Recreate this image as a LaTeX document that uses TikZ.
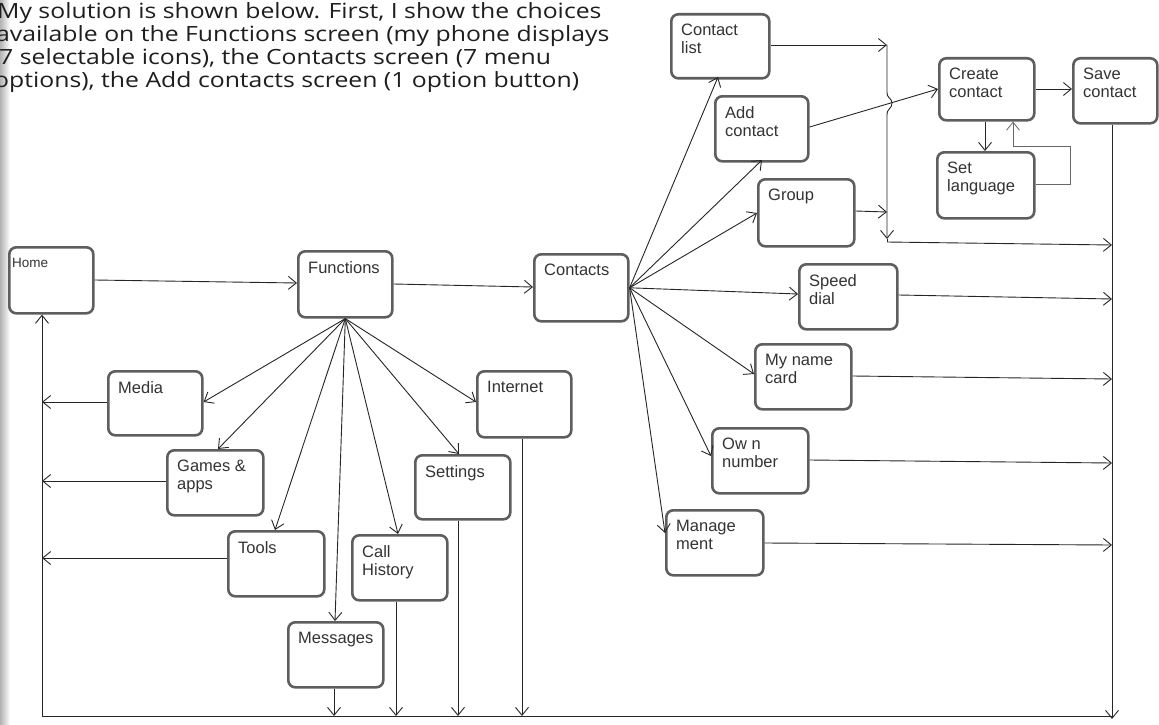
\documentclass[tikz,border=0pt]{standalone}
\usepackage{fontspec}
\setmainfont{Liberation Sans}
\newfontfamily\introfont[FakeStretch=1.18]{Open Sans}
\usetikzlibrary{arrows.meta}

\definecolor{boxline}{HTML}{5E5E5E}
\definecolor{boxtext}{HTML}{333333}
\definecolor{wire}{HTML}{262626}
\definecolor{introtext}{HTML}{1E1E1E}

\tikzset{
  screen/.style={draw=boxline, line width=2.6pt, rounded corners=7pt, fill=white,
                 anchor=north west, inner sep=0pt},
  screentext/.style={anchor=north west, inner sep=0pt, align=left, text=boxtext,
                     font=\fontsize{16.5}{18}\selectfont},
  flow/.style={draw=wire, line width=0.9pt,
               -{Straight Barb[length=8pt,width=13pt,line width=0.9pt]}},
  plain/.style={draw=wire, line width=0.9pt},
  introline/.style={anchor=base west, inner sep=0pt, text=introtext,
                    font=\introfont\fontsize{21}{23}\selectfont},
}

% \screenbox{name}{left}{top}{right}{bottom}{label}
\newcommand\screenbox[6]{%
  \node[screen, minimum width=#4-#2, minimum height=#5-#3] (#1) at (#2,#3) {};
  \node[screentext] (#1-label) at (#2+11,#3+11) {#6};
}

\begin{document}
\begin{tikzpicture}[x=1pt,y=-1pt]
\useasboundingbox (0,0) rectangle (1159,725);
\fill[white] (0,0) rectangle (1159,725);
% shadow of the page binding along the left edge
\shade[left color=black!30, right color=white] (0,0) rectangle (10,725);

% introductory text
\node[introline] (intro1) at (-3,19) {My solution is shown below. First, I show the choices};
\node[introline] (intro2) at (-4,42) {available on the Functions screen (my phone displays};
\node[introline] (intro3) at (-1,65) {7 selectable icons), the Contacts screen (7 menu};
\node[introline] (intro4) at (-6,88) {options), the Add contacts screen (1 option button)};

% screens
\node[screen, minimum width=84, minimum height=66] (home) at (8,246) {};
\node[screentext, font=\fontsize{13.5}{16}\selectfont] (home-label) at (12,258) {Home};
\screenbox{functions}{297}{250}{391}{316}{Functions}
\screenbox{contacts}{533}{253}{627}{320}{Contacts}
\screenbox{media}{107}{370}{201}{434}{Media}
\screenbox{internet}{476}{370}{570}{436}{Internet}
\screenbox{games}{166}{449}{262}{514}{Games \&\\apps}
\screenbox{settings}{414}{454}{509}{518}{Settings}
\screenbox{tools}{227}{530}{323}{595}{Tools}
\screenbox{callhist}{351}{534}{446}{599}{Call\\History}
\screenbox{messages}{287}{621}{382}{686}{Messages}

\screenbox{clist}{670}{13}{768}{77}{Contact\\list}
\screenbox{addc}{714}{95}{807}{160}{Add\\contact}
\screenbox{group}{757}{178}{853}{245}{Group}
\screenbox{create}{938}{57}{1033}{119}{Create\\contact}
\screenbox{save}{1072}{57}{1156}{122}{Save\\contact}
\screenbox{setlang}{936}{151}{1033}{217}{Set\\language}
\screenbox{speed}{798}{263}{896}{328}{Speed\\dial}
\screenbox{mycard}{754}{343}{850}{408}{My name\\card}
\screenbox{ownnum}{711}{427}{807}{492}{Ow n\\number}
\screenbox{manage}{665}{509}{762}{574}{Manage\\ment}

% return bus back to Home
\coordinate (busLeft) at (42,716);
\coordinate (busRight) at (1112,716);
\coordinate (bendTop) at (887,45);
\coordinate (bendBot) at (887,239);

% main path
\draw[flow] (home.east |- 0,280) -- (functions.west |- 0,283);
\draw[flow] (functions.east |- 0,284) -- (contacts.west |- 0,287);

% Functions fan-out
\draw[flow] (functions.south) -- (media.east |- 0,402);
\draw[flow] (functions.south) -- (218,449);
\draw[flow] (functions.south) -- (275,530);
\draw[flow] (functions.south) -- (335,621);
\draw[flow] (functions.south) -- (398,534);
\draw[flow] (functions.south) -- (459,454);
\draw[flow] (functions.south) -- (internet.west |- 0,402);

% back to the Home column
\draw[flow] (media.west |- 0,402) -- (busLeft |- 0,402);
\draw[flow] (games.west |- 0,481) -- (busLeft |- 0,481);
\draw[flow] (tools.west |- 0,558) -- (busLeft |- 0,558);
\draw[flow] (messages.south -| 334,0) -- (334,716);
\draw[flow] (callhist.south -| 396,0) -- (396,716);
\draw[flow] (settings.south -| 458,0) -- (458,716);
\draw[flow] (internet.south -| 522,0) -- (522,716);
\draw[plain] (busRight) -- (busLeft);
\draw[flow] (busLeft) -- (home.south -| busLeft);

% Contacts fan-out
\draw[flow] (contacts.east) -- (718,77);
\draw[flow] (contacts.east) -- (762,160);
\draw[flow] (contacts.east) -- (group.west |- 0,213);
\draw[flow] (contacts.east) -- (speed.west |- 0,294);
\draw[flow] (contacts.east) -- (mycard.west |- 0,374);
\draw[flow] (contacts.east) -- (ownnum.west |- 0,456);
\draw[flow] (contacts.east) -- (manage.west |- 0,533);

% Add contact branch
\draw[flow] (addc.east |- 0,127) -- (create.west |- 0,89);
\draw[flow] (create.east |- 0,89) -- (save.west |- 0,89);
\draw[flow] (create.south -| 985,0) -- (setlang.north -| 985,0);
\draw[draw=wire!70, line width=0.8pt, -{Straight Barb[length=8pt,width=13pt,line width=0.8pt]}]
  (setlang.east |- 0,184) -- (1070,184) -- (1070,146) -- (1013,146) -- (create.south -| 1013,0);

% Contact list / Group join, hopping over the Add contact line
\draw[flow] (clist.east |- 0,45) -- (bendTop);
\draw[flow] (bendTop) -- (887,92) .. controls (887,99) and (892,98) .. (892,103)
  .. controls (892,109) and (887,108) .. (887,115) -- (bendBot);
\draw[flow] (group.east |- 0,211) -- (bendTop |- 0,212);
\draw[plain] (bendBot) -- (887,242);
\draw[flow] (887,242) -- (busRight |- 0,245);

% remaining Contacts options into the right column
\draw[flow] (speed.east |- 0,295) -- (busRight |- 0,299);
\draw[flow] (mycard.east |- 0,376) -- (busRight |- 0,379);
\draw[flow] (ownnum.east |- 0,460) -- (busRight |- 0,463);
\draw[flow] (manage.east |- 0,543) -- (busRight |- 0,545);
\draw[flow] (save.south -| busRight) -- ([yshift=-3pt]busRight);
\end{tikzpicture}
\end{document}
